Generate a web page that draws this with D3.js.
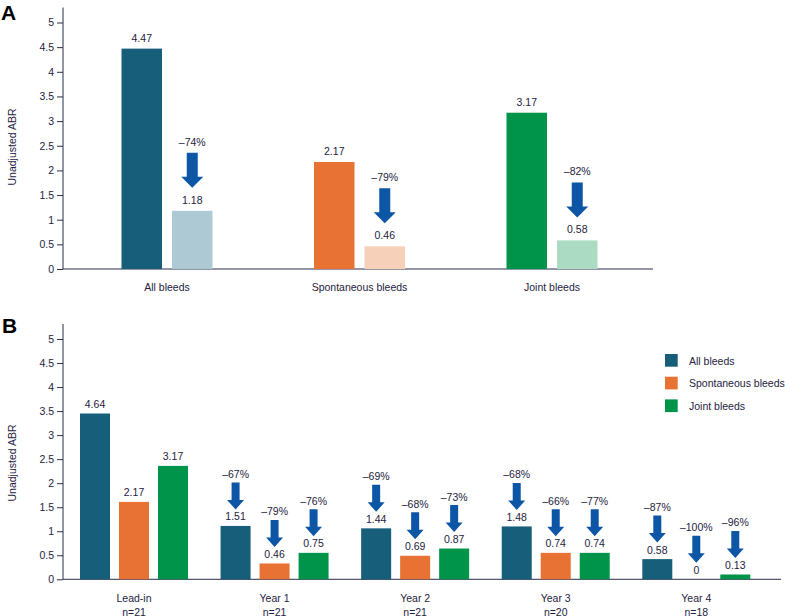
<!DOCTYPE html>
<html><head><meta charset="utf-8">
<script src="https://cdn.jsdelivr.net/npm/d3@7"></script>
<style>
body{margin:0;background:#fff;}
text{font-family:"Liberation Sans",Arial,sans-serif;fill:#1e2240;}
</style></head><body>
<svg id="c" width="785" height="616"></svg>
<script>
// ---------- Panel A data ----------
const aCategories = ["All bleeds", "Spontaneous bleeds", "Joint bleeds"];
const aLeadIn = [4.47, 2.17, 3.17];
const aOnTreatment = [1.18, 0.46, 0.58];
const aReduction = ["\u201374%", "\u201379%", "\u201382%"];
const aDarkColors = ["#175e7b", "#e87233", "#00944a"];
const aLightColors = ["#adc9d4", "#f6d0b9", "#abdcc3"];

// ---------- Panel B data ----------
const bPeriods = ["Lead-in", "Year 1", "Year 2", "Year 3", "Year 4"];
const bN = ["n=21", "n=21", "n=21", "n=20", "n=18"];
const bSeries = ["All bleeds", "Spontaneous bleeds", "Joint bleeds"];
const bColors = ["#175e7b", "#e87233", "#00944a"];
// drawn bar heights
const bAllHeights   = [3.45, 1.11, 1.06, 1.10, 0.42];
const bSpontHeights = [1.61, 0.33, 0.49, 0.55, 0.00];
const bJointHeights = [2.36, 0.55, 0.64, 0.55, 0.10];
// printed value labels
const bAllLabels   = ["4.64", "1.51", "1.44", "1.48", "0.58"];
const bSpontLabels = ["2.17", "0.46", "0.69", "0.74", "0"];
const bJointLabels = ["3.17", "0.75", "0.87", "0.74", "0.13"];
const bAllPct   = [null, "\u201367%", "\u201369%", "\u201368%", "\u201387%"];
const bSpontPct = [null, "\u201379%", "\u201368%", "\u201366%", "\u2013100%"];
const bJointPct = [null, "\u201376%", "\u201373%", "\u201377%", "\u201396%"];

const yTicks = [0, 0.5, 1, 1.5, 2, 2.5, 3, 3.5, 4, 4.5, 5];
const yTickLabels = ["0", "0.5", "1", "1.5", "2", "2.5", "3", "3.5", "4", "4.5", "5"];

const svg = d3.select("#c");
const axisColor = "#2a2d4a";
const arrowColor = "#0d56a6";

function drawArrow(g, cx, tipY, len, shaftW, headW, headL) {
  const top = tipY - len, hs = tipY - headL;
  g.append("path")
    .attr("d", `M${cx - shaftW/2},${top} L${cx + shaftW/2},${top} L${cx + shaftW/2},${hs} L${cx + headW/2},${hs} L${cx},${tipY} L${cx - headW/2},${hs} L${cx - shaftW/2},${hs} Z`)
    .attr("fill", arrowColor);
}

function yAxis(g, y, x0) {
  const ax = g.append("g").attr("transform", `translate(${x0},0)`)
    .call(d3.axisLeft(y).tickValues(yTicks).tickFormat((d, i) => yTickLabels[i]).tickSize(6).tickPadding(3));
  ax.select(".domain").attr("stroke", axisColor).attr("d", `M0,${y(0)}V${y(5) - 15}`);
  ax.selectAll(".tick line").attr("stroke", axisColor);
  ax.selectAll(".tick text").attr("font-size", 10.5).attr("fill", "#1e2240")
    .attr("font-family", '"Liberation Sans",Arial,sans-serif');
}

// ================= Panel A =================
{
  const g = svg.append("g");
  const y = d3.scaleLinear().domain([0, 5]).range([269, 22.5]);
  const x = d3.scalePoint().domain(aCategories).range([167, 552]);
  const bw = 40.5, gap = 10;
  yAxis(g, y, 63);
  g.append("line").attr("x1", 63).attr("x2", 653).attr("y1", y(0)).attr("y2", y(0)).attr("stroke", axisColor);

  aCategories.forEach((c, i) => {
    const cx = x(c);
    const x1 = cx - gap/2 - bw, x2 = cx + gap/2;
    g.append("rect").attr("x", x1).attr("width", bw).attr("y", y(aLeadIn[i])).attr("height", y(0) - y(aLeadIn[i])).attr("fill", aDarkColors[i]);
    g.append("rect").attr("x", x2).attr("width", bw).attr("y", y(aOnTreatment[i])).attr("height", y(0) - y(aOnTreatment[i])).attr("fill", aLightColors[i]);
    g.append("text").attr("x", x1 + bw/2).attr("y", y(aLeadIn[i]) - 7).attr("text-anchor", "middle").attr("font-size", 10.5).text(aLeadIn[i].toFixed(2));
    const top = y(aOnTreatment[i]);
    g.append("text").attr("x", x2 + bw/2).attr("y", top - 7).attr("text-anchor", "middle").attr("font-size", 10.5).text(aOnTreatment[i].toFixed(2));
    drawArrow(g, x2 + bw/2, top - 23, 35, 11, 22, 11);
    g.append("text").attr("x", x2 + bw/2).attr("y", top - 65).attr("text-anchor", "middle").attr("font-size", 10.5).text(aReduction[i]);
    g.append("text").attr("x", cx).attr("y", 291).attr("text-anchor", "middle").attr("font-size", 10.5).text(c);
  });
  g.append("text").attr("transform", `translate(16,147) rotate(-90)`).attr("text-anchor", "middle").attr("font-size", 10.5).text("Unadjusted ABR");
  g.append("text").attr("x", 1).attr("y", 20).attr("font-size", 21).attr("font-weight", "bold").style("fill", "#000").text("A");
}

// ================= Panel B =================
{
  const g = svg.append("g");
  const y = d3.scaleLinear().domain([0, 5]).range([579.3, 339]);
  const x = d3.scalePoint().domain(bPeriods).range([134, 696.3]);
  const bw = 30, step = 39;
  yAxis(g, y, 63);
  g.append("line").attr("x1", 63).attr("x2", 781).attr("y1", y(0)).attr("y2", y(0)).attr("stroke", axisColor);

  const heights = [bAllHeights, bSpontHeights, bJointHeights];
  const labels = [bAllLabels, bSpontLabels, bJointLabels];
  const pcts = [bAllPct, bSpontPct, bJointPct];

  bPeriods.forEach((p, i) => {
    const cx = x(p);
    for (let s = 0; s < 3; s++) {
      const bcx = cx + (s - 1) * step;
      const v = heights[s][i];
      const top = y(v);
      if (v > 0) g.append("rect").attr("x", bcx - bw/2).attr("width", bw).attr("y", top).attr("height", y(0) - top).attr("fill", bColors[s]);
      g.append("text").attr("x", bcx).attr("y", top - 5.5).attr("text-anchor", "middle").attr("font-size", 10.5).text(labels[s][i]);
      if (pcts[s][i]) {
        drawArrow(g, bcx, top - 16.5, 27, 8, 17, 9.5);
        g.append("text").attr("x", bcx).attr("y", top - 48).attr("text-anchor", "middle").attr("font-size", 10.5).text(pcts[s][i]);
      }
    }
    g.append("text").attr("x", cx).attr("y", 602).attr("text-anchor", "middle").attr("font-size", 10.5).text(p);
    g.append("text").attr("x", cx).attr("y", 615.5).attr("text-anchor", "middle").attr("font-size", 10.5).text(bN[i]);
  });

  const lg = g.append("g");
  bSeries.forEach((s, i) => {
    lg.append("rect").attr("x", 665).attr("y", 354 + i * 22.7).attr("width", 12.7).attr("height", 12.7).attr("fill", bColors[i]);
    lg.append("text").attr("x", 689).attr("y", 364.5 + i * 22.7).attr("font-size", 10.5).text(s);
  });

  g.append("text").attr("transform", `translate(16,463) rotate(-90)`).attr("text-anchor", "middle").attr("font-size", 10.5).text("Unadjusted ABR");
  g.append("text").attr("x", 2).attr("y", 333).attr("font-size", 21).attr("font-weight", "bold").style("fill", "#000").text("B");
}
</script></body></html>
